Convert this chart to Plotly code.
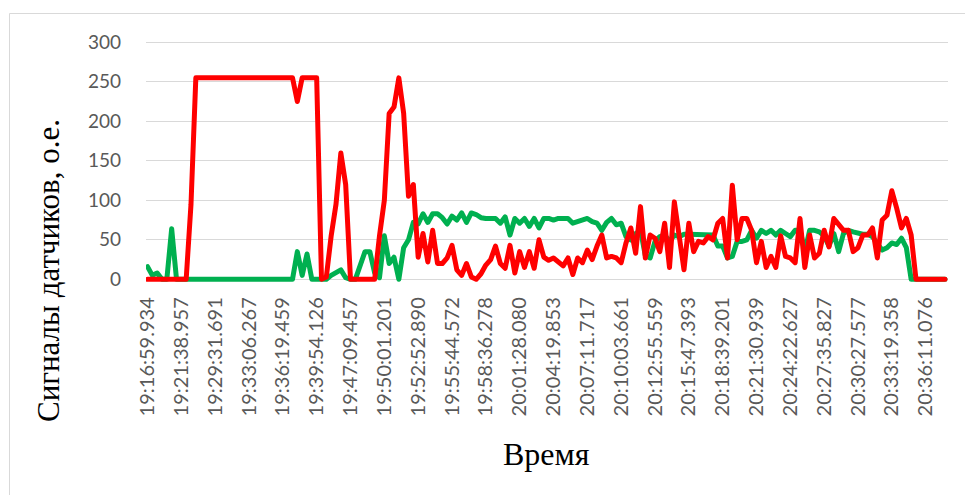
import plotly.graph_objects as go

# ---- data -------------------------------------------------------------
# time stamps shown on the category axis (one label every 7 samples)
tick_labels = [
    "19:16:59.934", "19:21:38.957", "19:29:31.691", "19:33:06.267",
    "19:36:19.459", "19:39:54.126", "19:47:09.457", "19:50:01.201",
    "19:52:52.890", "19:55:44.572", "19:58:36.278", "20:01:28.080",
    "20:04:19.853", "20:07:11.717", "20:10:03.661", "20:12:55.559",
    "20:15:47.393", "20:18:39.201", "20:21:30.939", "20:24:22.627",
    "20:27:35.827", "20:30:27.577", "20:33:19.358", "20:36:11.076",
]
label_step = 7

# sensor 1 (green)
green = (
    [16, 5, 8, 0, 0, 64] + [0] * 25 +
    [35, 5, 32, 0, 0, 0, 0, 5, 8, 12, 2, 0, 0, 20, 35, 35, 8, 2, 55, 20, 28, 0,
     40, 50, 72, 70, 83, 72, 83, 83, 78, 70, 80, 75, 84, 72, 84, 82, 78, 77,
     77, 77, 71, 79, 56, 77, 71, 77, 67, 77, 65, 77, 77, 75, 77, 77, 77, 71,
     73, 75, 77, 73, 71, 62, 72, 77, 69, 71, 54, 50, 58, 62, 30, 27, 48, 54,
     56, 48, 56, 54, 57, 57, 57, 57, 57, 57, 56, 42, 42, 27, 29, 48, 48, 50,
     62, 52, 62, 58, 62, 56, 62, 58, 54, 62, 62, 35, 62, 62, 60, 55, 42, 58,
     35, 58, 62, 60, 58, 57, 57, 54, 45, 37, 40, 46, 44, 52, 40] + [0] * 8
)

# sensor 2 (red)
red = (
    [0] * 9 + [95] + [255] * 21 + [225] + [255] * 4 +
    [0, 3, 55, 95, 160, 120] + [0] * 6 +
    [55, 100, 210, 218, 255, 210, 105, 120,
     28, 58, 22, 62, 20, 20, 27, 43, 12, 5, 20, 3, 0, 7, 18, 25, 42, 20, 14,
     43, 8, 35, 15, 35, 14, 50, 28, 24, 27, 22, 17, 27, 6, 27, 21, 37, 25, 42,
     56,
     27, 29, 27, 21, 46, 65, 33, 92, 27, 56, 52, 35, 71, 15, 98, 50, 12, 71,
     35, 48, 46, 54, 50, 71, 77, 27, 119, 50, 77, 77, 62, 21, 48, 15, 29, 15,
     55,
     29, 27, 21, 77, 15, 56, 27, 33, 62, 41, 77, 69, 62, 62, 35, 40, 56, 56,
     65, 27, 75, 81, 112, 90, 65, 77, 56] + [0] * 7
)

y_ticks = [0, 50, 100, 150, 200, 250, 300]

n = len(red)
assert len(green) == n
x = list(range(n))

# ---- geometry (pixels) ---------------------------------------------------
W, H = 965, 495
plot_left, plot_right = 146, 948
y0_px, y_scale = 279.3, 0.79          # pixel row of value 0, pixels per unit
y_lo, y_hi = -5, 303
plot_bottom = y0_px - y_scale * y_lo
plot_top = y0_px - y_scale * y_hi
x0_px, x_step = 147.5, 4.8333
x_lo = (plot_left - x0_px) / x_step
x_hi = (plot_right - x0_px) / x_step


def px(v):
    return v / W


def py(v):
    return 1 - v / H


y_tick_font = dict(family="Lato", size=19, color="#595959")
x_tick_font = dict(family="Lato", size=20, color="#595959")

fig = go.Figure()
fig.add_trace(go.Scatter(x=x, y=green, mode="lines",
                         line=dict(color="#00B050", width=5)))
fig.add_trace(go.Scatter(x=x, y=red, mode="lines",
                         line=dict(color="#FF0000", width=5)))

fig.update_layout(
    template="none",
    width=W, height=H,
    margin=dict(l=0, r=0, t=0, b=0),
    paper_bgcolor="white", plot_bgcolor="white",
    showlegend=False,
    xaxis=dict(
        domain=[px(plot_left), px(plot_right)],
        range=[x_lo, x_hi],
        tickvals=x[::label_step], ticktext=tick_labels,
        tickangle=-90, tickfont=x_tick_font,
        showgrid=False, zeroline=False, showline=False, ticks="",
        ticklabelstandoff=9, automargin=False,
    ),
    yaxis=dict(
        domain=[py(plot_bottom), py(plot_top)],
        range=[y_lo, y_hi],
        tickvals=y_ticks, tickfont=y_tick_font,
        showgrid=True, gridcolor="#d9d9d9", gridwidth=1,
        zeroline=False, showline=False, ticks="",
        ticklabelstandoff=24, automargin=False,
    ),
    annotations=[
        dict(text="Сигналы датчиков, о.е.", textangle=-90,
             x=px(48), y=py(271), xref="paper", yref="paper",
             xanchor="center", yanchor="middle", showarrow=False,
             font=dict(family="Liberation Serif", size=31, color="#000000")),
        dict(text="Время",
             x=px(546), y=py(454), xref="paper", yref="paper",
             xanchor="center", yanchor="middle", showarrow=False,
             font=dict(family="Liberation Serif", size=32, color="#000000")),
    ],
    shapes=[
        dict(type="rect", xref="paper", yref="paper",
             x0=px(9.5), y0=py(13.5), x1=1.05, y1=-0.05,
             line=dict(color="#d9d9d9", width=1), fillcolor="rgba(0,0,0,0)",
             layer="below"),
    ],
)

round_joins = (
    "document.querySelectorAll('.scatterlayer path.js-line')"
    ".forEach(function(p){p.style.strokeLinejoin='round';"
    "p.style.strokeLinecap='round';});"
)
fig.write_html("out.html", post_script=round_joins)
